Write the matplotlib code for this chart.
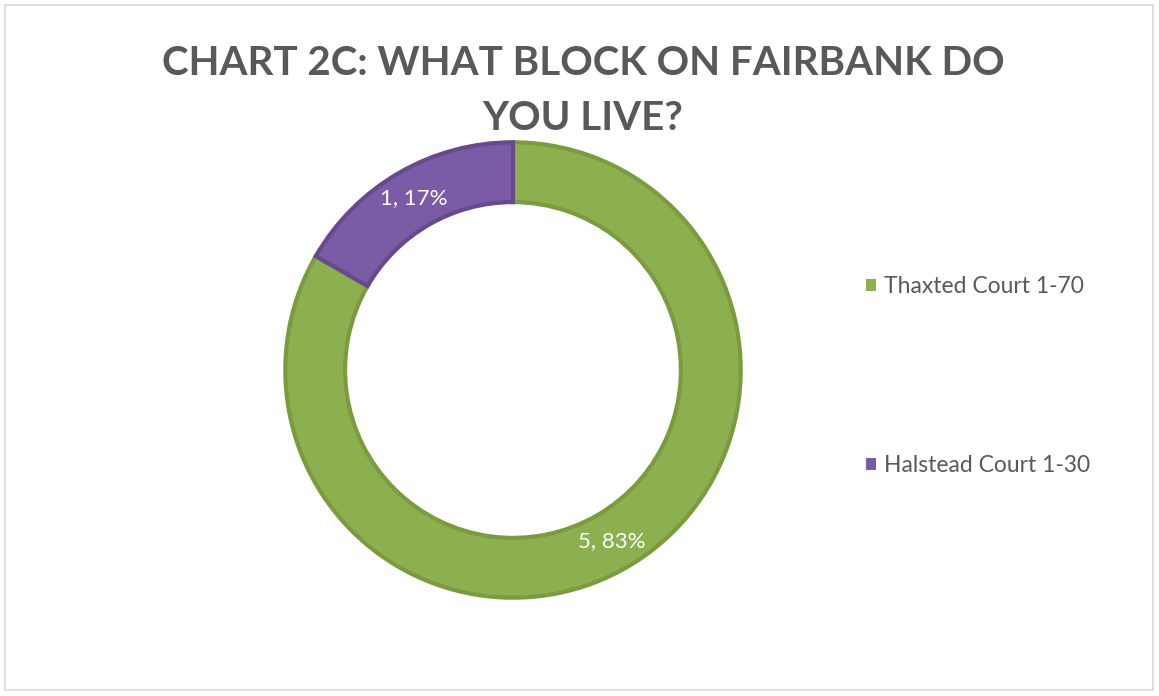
import matplotlib.pyplot as plt
from matplotlib.patches import Rectangle

# data
labels = ['Thaxted Court 1-70', 'Halstead Court 1-30']
counts = [5, 1]
colors = ['#8cb04f', '#7c5ba6']
edge_colors = ['#7a9c3e', '#664a8c']
title = 'CHART 2C: WHAT BLOCK ON FAIRBANK DO\nYOU LIVE?'

plt.rcParams['font.family'] = ['Lato', 'DejaVu Sans']

fig = plt.figure(figsize=(11.59, 6.96), dpi=100)

# light frame around the chart area
fig.patches.append(Rectangle((5 / 1159, 6 / 696), 1148 / 1159, 685 / 696,
                             transform=fig.transFigure, fill=False,
                             edgecolor='#d9d9d9', linewidth=1.2))

ax = fig.add_axes([(513 - 230) / 1159, (696 - 600) / 696, 460 / 1159, 460 / 696])
total = sum(counts)

def fmt(p):
    return f'{round(p * total / 100)}, {p:.0f}%'

wedges, texts, autotexts = ax.pie(counts, colors=colors, startangle=90, counterclock=False,
                                  radius=0.99, autopct=fmt, pctdistance=0.87,
                                  wedgeprops=dict(width=0.26, linewidth=3),
                                  textprops=dict(color='white', fontsize=16))
for w, ec in zip(wedges, edge_colors):
    w.set_edgecolor(ec)
ax.set_xlim(-1, 1)
ax.set_ylim(-1, 1)
ax.set_aspect('equal')

fig.text(583 / 1159, 1 - 91 / 696, title, ha='center', va='center', fontsize=29,
         fontweight='bold', color='#595959', linespacing=1.6)

leg = fig.legend(wedges, labels, loc='center left', bbox_to_anchor=(845 / 1159, 1 - 376 / 696),
                 frameon=False, fontsize=16.5, handlelength=0.45, handleheight=0.45,
                 handletextpad=0.35, labelspacing=6.9, labelcolor='#595959')
for h in leg.legend_handles:
    h.set_linewidth(0)

fig.savefig('out.png', dpi=100)
